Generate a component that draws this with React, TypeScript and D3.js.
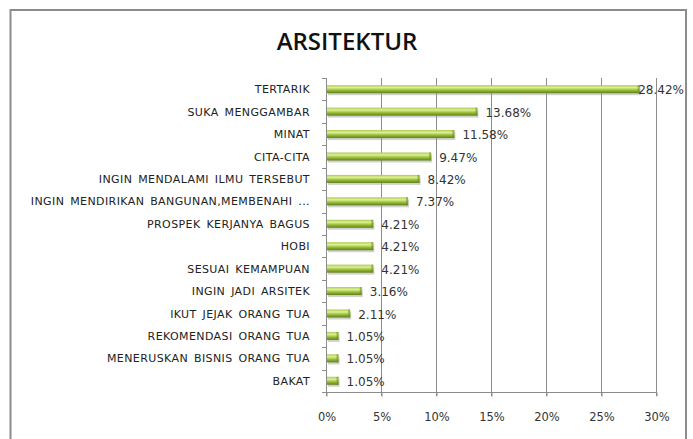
import React, { useEffect, useRef } from "react";
import * as d3 from "d3";

const categories = [
  "TERTARIK",
  "SUKA MENGGAMBAR",
  "MINAT",
  "CITA-CITA",
  "INGIN MENDALAMI ILMU TERSEBUT",
  "INGIN MENDIRIKAN BANGUNAN,MEMBENAHI ...",
  "PROSPEK KERJANYA BAGUS",
  "HOBI",
  "SESUAI KEMAMPUAN",
  "INGIN JADI ARSITEK",
  "IKUT JEJAK ORANG TUA",
  "REKOMENDASI ORANG TUA",
  "MENERUSKAN BISNIS ORANG TUA",
  "BAKAT",
];
const values = [28.42, 13.68, 11.58, 9.47, 8.42, 7.37, 4.21, 4.21, 4.21, 3.16, 2.11, 1.05, 1.05, 1.05];
const xTicks = [0, 5, 10, 15, 20, 25, 30];

export default function App() {
  const ref = useRef<SVGSVGElement>(null);

  useEffect(() => {
    if (!ref.current) return;
    const svg = d3.select(ref.current);
    svg.selectAll("*").remove();

    const H = 439;
    const left = 326;
    const right = 656;
    const top = 78;
    const bottom = 392;
    const frameRight = 686;
    const font = "'DejaVu Sans', Verdana, sans-serif";

    // gradient for the cylinder-like bars
    const defs = svg.append("defs");
    const grad = defs
      .append("linearGradient")
      .attr("id", "barGrad")
      .attr("x1", 0)
      .attr("y1", 0)
      .attr("x2", 0)
      .attr("y2", 1);
    grad.append("stop").attr("offset", "0%").attr("stop-color", "#a9c94a");
    grad.append("stop").attr("offset", "30%").attr("stop-color", "#def09a");
    grad.append("stop").attr("offset", "60%").attr("stop-color", "#9dc23a");
    grad.append("stop").attr("offset", "100%").attr("stop-color", "#5f7f18");

    // outer frame
    svg
      .append("rect")
      .attr("x", 10.5)
      .attr("y", 10)
      .attr("width", frameRight - 10.5)
      .attr("height", H)
      .attr("fill", "#fff")
      .attr("stroke", "#8c8c8c")
      .attr("stroke-width", 2);

    svg
      .append("text")
      .attr("x", 347)
      .attr("y", 50)
      .attr("text-anchor", "middle")
      .attr("font-family", "'Open Sans', sans-serif")
      .attr("font-weight", 600)
      .attr("font-size", 24)
      .attr("fill", "#111")
      .text("ARSITEKTUR");

    const x = d3.scaleLinear().domain([0, 30]).range([left, right]);
    const y = d3.scaleBand().domain(categories).range([top, bottom]);

    // vertical gridlines
    svg
      .append("g")
      .selectAll("line")
      .data(xTicks.slice(1))
      .enter()
      .append("line")
      .attr("x1", (d) => x(d) + 0.5)
      .attr("x2", (d) => x(d) + 0.5)
      .attr("y1", top)
      .attr("y2", bottom + 4)
      .attr("stroke", "#8c8c8c")
      .attr("stroke-width", 1);

    // x axis
    const xAxis = svg
      .append("g")
      .attr("transform", `translate(0.5,${bottom + 0.5})`)
      .call(d3.axisBottom(x).tickValues(xTicks).tickSize(4).tickFormat((d) => `${d}%`));
    xAxis.select(".domain").attr("stroke", "#8c8c8c").attr("d", `M${left - 4},0H${right}`);
    xAxis.selectAll(".tick line").attr("stroke", "#8c8c8c");
    xAxis
      .selectAll(".tick text")
      .attr("y", 20)
      .attr("font-family", font)
      .attr("font-size", 11.5)
      .attr("fill", "#333");

    // y axis line with band ticks
    svg
      .append("line")
      .attr("x1", left + 0.5)
      .attr("x2", left + 0.5)
      .attr("y1", top)
      .attr("y2", bottom + 4)
      .attr("stroke", "#8c8c8c");
    svg
      .append("g")
      .selectAll("line")
      .data(d3.range(categories.length + 1))
      .enter()
      .append("line")
      .attr("x1", left - 4)
      .attr("x2", left)
      .attr("y1", (i) => Math.round(top + i * y.step()) + 0.5)
      .attr("y2", (i) => Math.round(top + i * y.step()) + 0.5)
      .attr("stroke", "#8c8c8c");

    // category labels
    svg
      .append("g")
      .selectAll("text")
      .data(categories)
      .enter()
      .append("text")
      .attr("x", 310)
      .attr("y", (d) => (y(d) as number) + y.bandwidth() / 2 + 4)
      .attr("text-anchor", "end")
      .attr("font-family", font)
      .attr("font-size", 11)
      .attr("letter-spacing", 0.4)
      .attr("word-spacing", 2)
      .attr("fill", "#222")
      .text((d) => d);

    const barH = 8;
    const rows = svg
      .append("g")
      .selectAll("g")
      .data(values)
      .enter()
      .append("g")
      .attr("transform", (d, i) => `translate(0,${(y(categories[i]) as number) + y.bandwidth() / 2 - barH / 2})`);

    // shadow
    rows
      .append("rect")
      .attr("x", left + 2)
      .attr("y", 2)
      .attr("width", (d) => x(d) - left)
      .attr("height", barH)
      .attr("fill", "#9a9a9a")
      .attr("opacity", 0.45);

    rows
      .append("rect")
      .attr("x", left + 1)
      .attr("y", 0)
      .attr("width", (d) => x(d) - left)
      .attr("height", barH)
      .attr("fill", "url(#barGrad)");

    // end cap
    rows
      .append("rect")
      .attr("x", (d) => x(d) - 1)
      .attr("y", 0)
      .attr("width", 2)
      .attr("height", barH)
      .attr("fill", "#6f8f22")
      .attr("opacity", 0.6);

    // value labels, pushed back inside the frame when they would overflow
    rows
      .append("text")
      .attr("y", barH / 2 + 5)
      .attr("font-family", font)
      .attr("font-size", 12)
      .attr("fill", "#333")
      .text((d) => `${d.toFixed(2)}%`)
      .each(function (d) {
        const t = this as SVGTextElement;
        const w = t.getComputedTextLength();
        t.setAttribute("x", String(Math.min(x(d) + 9, frameRight - 2 - w)));
      });
  }, []);

  return (
    <svg
      ref={ref}
      width={693}
      height={439}
      style={{ position: "absolute", left: 0, top: 0, display: "block" }}
    />
  );
}
